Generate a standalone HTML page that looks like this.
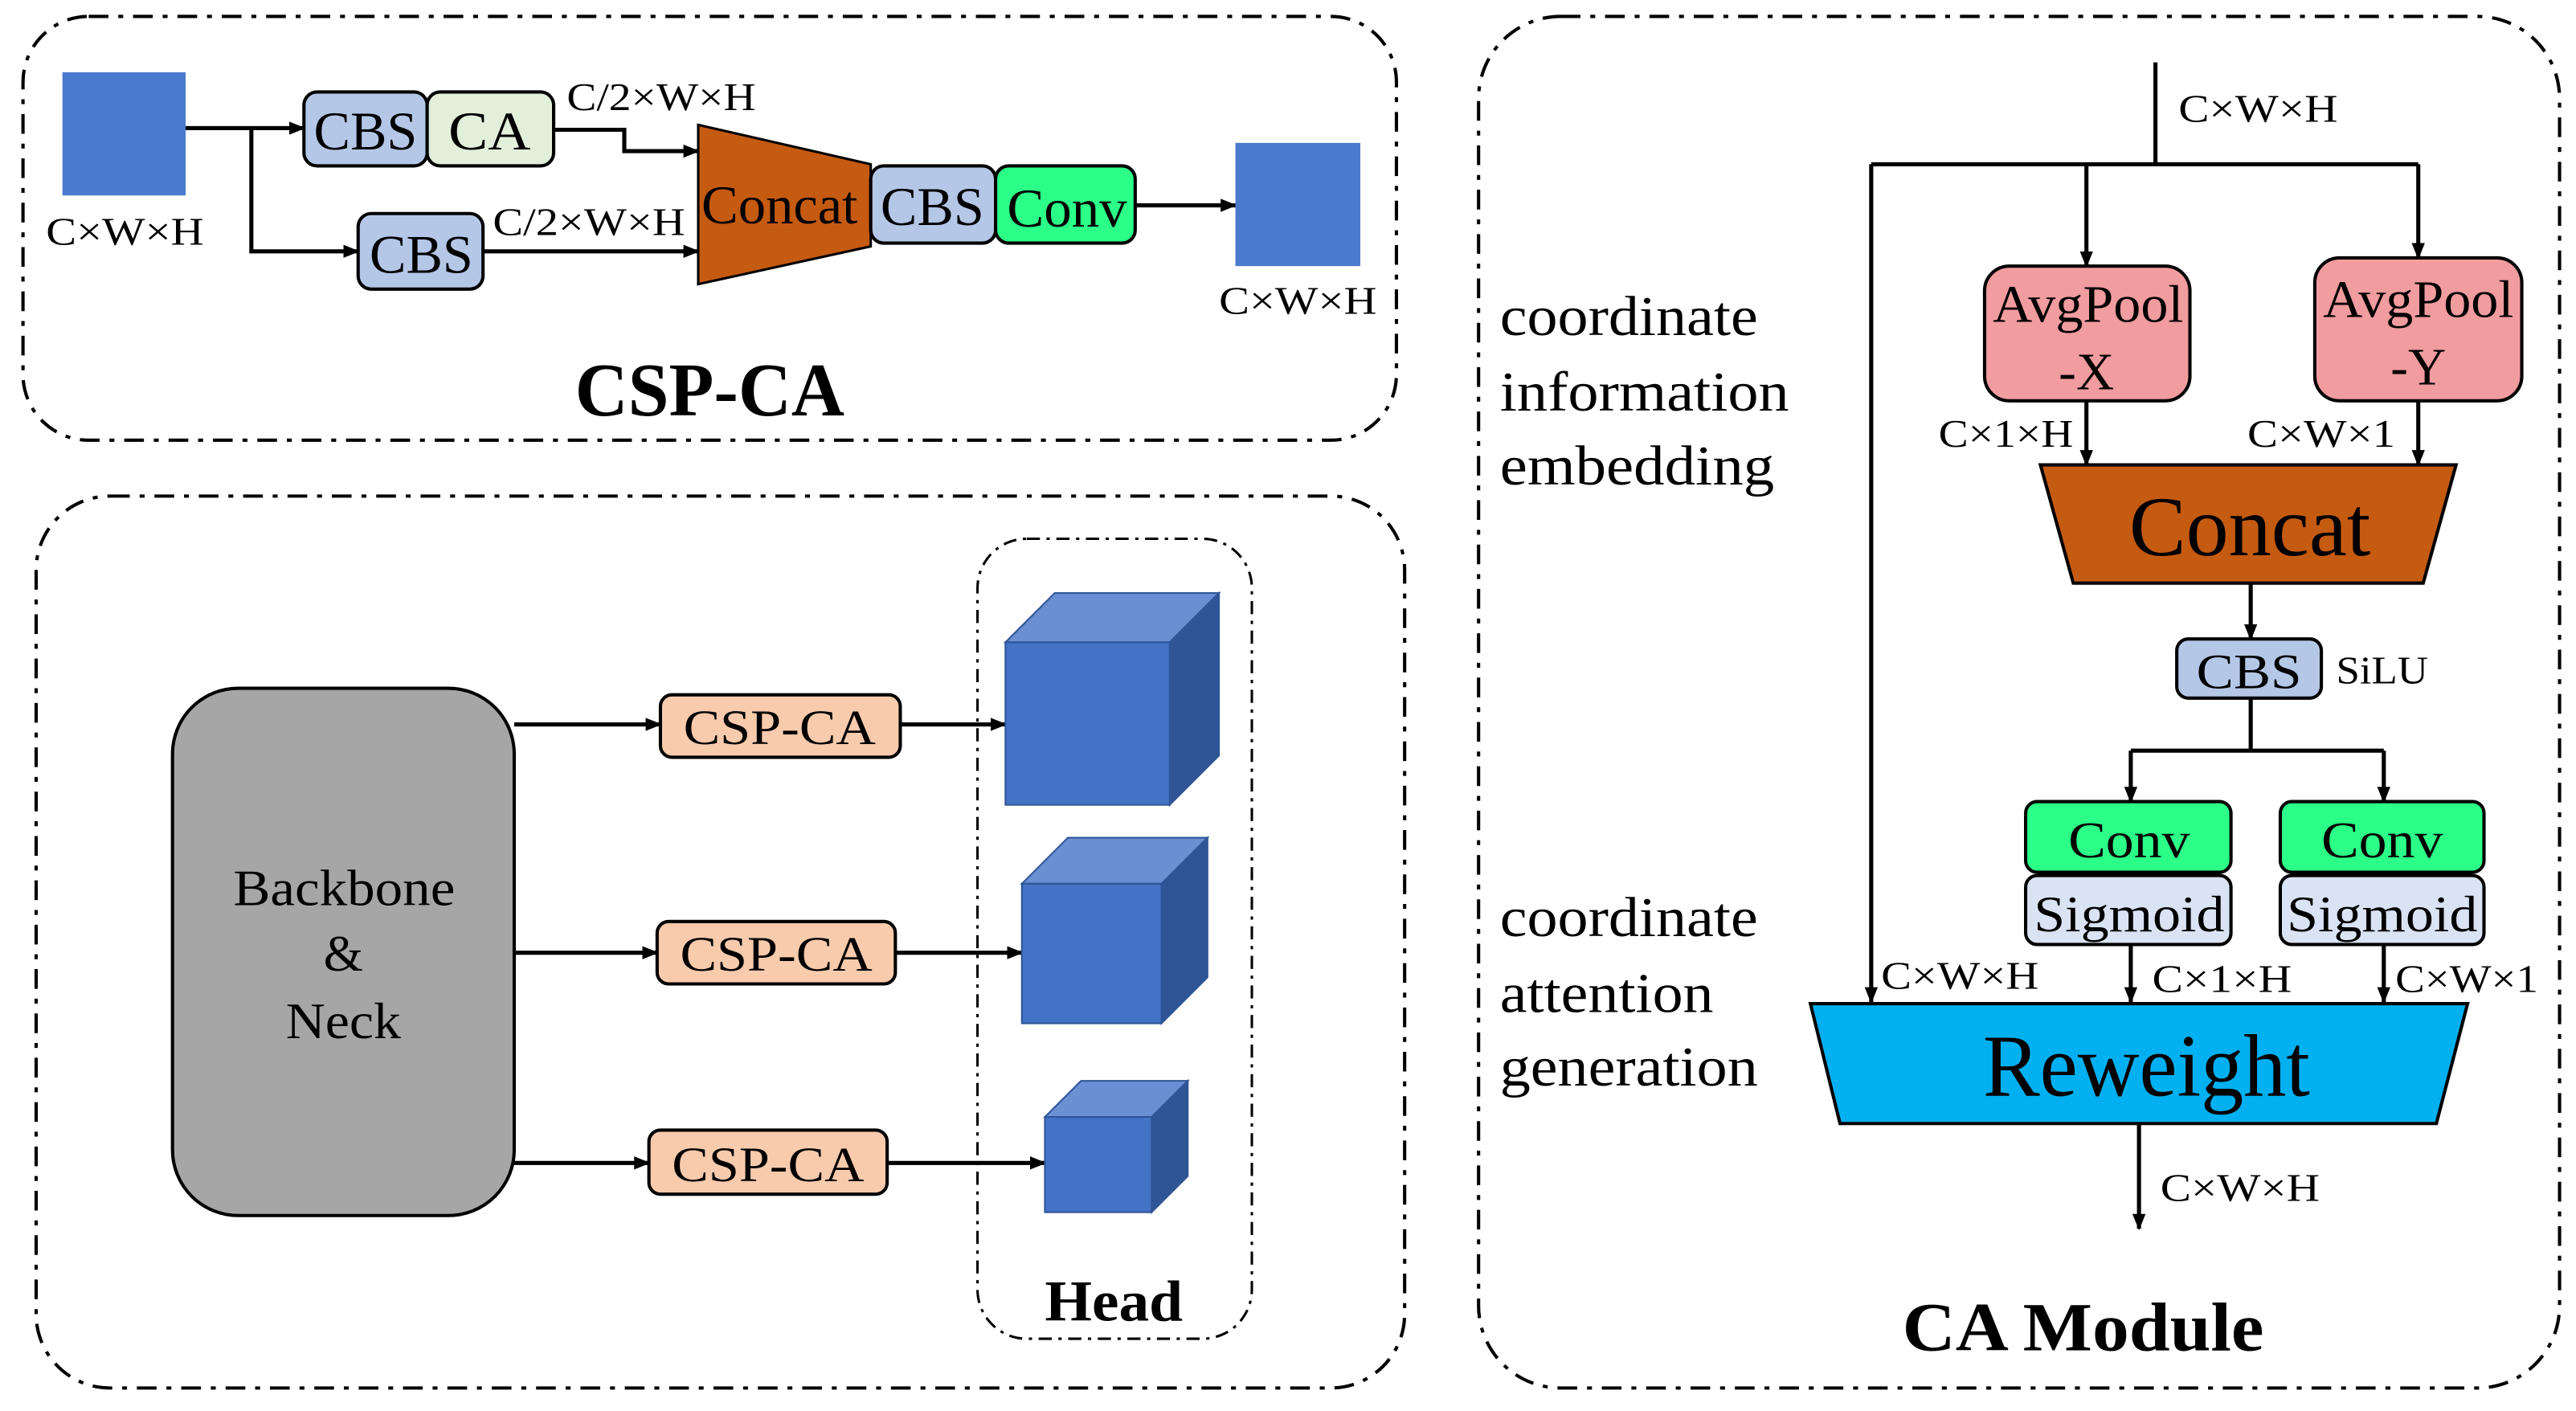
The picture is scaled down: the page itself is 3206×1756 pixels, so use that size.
<!DOCTYPE html>
<html><head><meta charset="utf-8"><style>
html,body{margin:0;padding:0;background:#fff;}
svg{display:block;}
text{font-family:"Liberation Serif","Times New Roman",serif;fill:#000;}
</style></head><body>
<svg width="3206" height="1756" viewBox="0 0 1568 859" preserveAspectRatio="none" xmlns="http://www.w3.org/2000/svg">
<defs>
<marker id="a" markerWidth="10" markerHeight="10" refX="9" refY="5" orient="auto" markerUnits="userSpaceOnUse"><path d="M0,1 L10,5 L0,9 z" fill="#000"/></marker>
</defs>
<g fill="none" stroke="#000" stroke-width="2" stroke-dasharray="12 6 3 6">
<rect x="14" y="10" width="836" height="258" rx="40"/>
<rect x="22" y="302" width="833" height="543" rx="45"/>
<rect x="900" y="10" width="658" height="835" rx="50"/>
<rect x="595" y="328" width="167" height="487" rx="30" stroke-width="1.5" stroke-dasharray="8 4 2 4"/>
</g>

<!-- CSP-CA panel -->
<rect x="38" y="44" width="75" height="75" fill="#4a7acd"/>
<text x="28" y="149" font-size="24" textLength="96" lengthAdjust="spacingAndGlyphs">C×W×H</text>
<g stroke="#000" stroke-width="2.5" fill="none">
<line x1="113" y1="78" x2="185" y2="78" marker-end="url(#a)"/>
<polyline points="153,78 153,153 218,153" marker-end="url(#a)"/>
<polyline points="337,79 380,79 380,92 425,92" marker-end="url(#a)"/>
<line x1="294" y1="153" x2="425" y2="153" marker-end="url(#a)"/>
<line x1="691" y1="125" x2="752" y2="125" marker-end="url(#a)"/>
</g>
<rect x="185" y="56" width="75" height="45" rx="8" fill="#b4c7e7" stroke="#000" stroke-width="2"/>
<rect x="260" y="56" width="77" height="45" rx="8" fill="#e2efda" stroke="#000" stroke-width="2"/>
<text x="191" y="91" font-size="33" textLength="63" lengthAdjust="spacingAndGlyphs">CBS</text>
<text x="273" y="91" font-size="33" textLength="50" lengthAdjust="spacingAndGlyphs">CA</text>
<text x="345" y="67" font-size="24" textLength="115" lengthAdjust="spacingAndGlyphs">C/2×W×H</text>
<rect x="218" y="130" width="76" height="46" rx="8" fill="#b4c7e7" stroke="#000" stroke-width="2"/>
<text x="225" y="166" font-size="33" textLength="63" lengthAdjust="spacingAndGlyphs">CBS</text>
<text x="300" y="143" font-size="24" textLength="117" lengthAdjust="spacingAndGlyphs">C/2×W×H</text>
<polygon points="425,76 530,100 530,150 425,173" fill="#c55a11" stroke="#000" stroke-width="1.5"/>
<text x="427" y="136" font-size="33" textLength="95" lengthAdjust="spacingAndGlyphs">Concat</text>
<rect x="530" y="101" width="76" height="47" rx="8" fill="#b4c7e7" stroke="#000" stroke-width="2"/>
<text x="536" y="137" font-size="33" textLength="63" lengthAdjust="spacingAndGlyphs">CBS</text>
<rect x="606" y="101" width="85" height="47" rx="8" fill="#2bff88" stroke="#000" stroke-width="2"/>
<text x="613" y="138" font-size="33" textLength="73" lengthAdjust="spacingAndGlyphs">Conv</text>
<rect x="752" y="87" width="76" height="75" fill="#4a7acd"/>
<text x="742" y="191" font-size="24" textLength="96" lengthAdjust="spacingAndGlyphs">C×W×H</text>
<text x="350" y="253" font-size="46" font-weight="bold" textLength="164" lengthAdjust="spacingAndGlyphs">CSP-CA</text>

<!-- Bottom-left panel -->
<rect x="105" y="419" width="208" height="321" rx="40" fill="#a6a6a6" stroke="#000" stroke-width="2"/>
<text x="142" y="551" font-size="31" textLength="135" lengthAdjust="spacingAndGlyphs">Backbone</text>
<text x="209" y="591" font-size="31" text-anchor="middle">&amp;</text>
<text x="174" y="632" font-size="31" textLength="70" lengthAdjust="spacingAndGlyphs">Neck</text>
<g stroke="#000" stroke-width="2.5">
<line x1="313" y1="441" x2="402" y2="441" marker-end="url(#a)"/>
<line x1="548" y1="441" x2="612" y2="441" marker-end="url(#a)"/>
<line x1="313" y1="580" x2="400" y2="580" marker-end="url(#a)"/>
<line x1="545" y1="580" x2="622" y2="580" marker-end="url(#a)"/>
<line x1="313" y1="708" x2="395" y2="708" marker-end="url(#a)"/>
<line x1="540" y1="708" x2="636" y2="708" marker-end="url(#a)"/>
</g>
<g fill="#f8cbad" stroke="#000" stroke-width="2">
<rect x="402" y="423" width="146" height="38" rx="7"/>
<rect x="400" y="561" width="145" height="38" rx="7"/>
<rect x="395" y="688" width="145" height="39" rx="7"/>
</g>
<text x="416" y="453" font-size="30" textLength="117" lengthAdjust="spacingAndGlyphs">CSP-CA</text>
<text x="414" y="591" font-size="30" textLength="117" lengthAdjust="spacingAndGlyphs">CSP-CA</text>
<text x="409" y="719" font-size="30" textLength="117" lengthAdjust="spacingAndGlyphs">CSP-CA</text>
<g stroke="#2f5597" stroke-width="1">
<polygon points="612,391 642,361 742,361 712,391" fill="#6a8fd3"/>
<polygon points="712,391 742,361 742,460 712,490" fill="#2f5597"/>
<rect x="612" y="391" width="100" height="99" fill="#4472c4"/>
<polygon points="622,538 650,510 735,510 707,538" fill="#6a8fd3"/>
<polygon points="707,538 735,510 735,595 707,623" fill="#2f5597"/>
<rect x="622" y="538" width="85" height="85" fill="#4472c4"/>
<polygon points="636,680 658,658 723,658 701,680" fill="#6a8fd3"/>
<polygon points="701,680 723,658 723,716 701,738" fill="#2f5597"/>
<rect x="636" y="680" width="65" height="58" fill="#4472c4"/>
</g>
<text x="636" y="804" font-size="35" font-weight="bold" textLength="84" lengthAdjust="spacingAndGlyphs">Head</text>

<!-- CA Module -->
<g stroke="#000" stroke-width="2.5" fill="none">
<line x1="1312" y1="38" x2="1312" y2="100"/>
<line x1="1139" y1="100" x2="1472" y2="100"/>
<line x1="1139" y1="100" x2="1139" y2="610" marker-end="url(#a)"/>
<line x1="1270" y1="100" x2="1270" y2="162" marker-end="url(#a)"/>
<line x1="1472" y1="100" x2="1472" y2="157" marker-end="url(#a)"/>
<line x1="1270" y1="244" x2="1270" y2="283" marker-end="url(#a)"/>
<line x1="1472" y1="244" x2="1472" y2="283" marker-end="url(#a)"/>
<line x1="1370" y1="355" x2="1370" y2="389" marker-end="url(#a)"/>
<line x1="1370" y1="425" x2="1370" y2="457"/>
<line x1="1297" y1="457" x2="1451" y2="457"/>
<line x1="1297" y1="457" x2="1297" y2="488" marker-end="url(#a)"/>
<line x1="1451" y1="457" x2="1451" y2="488" marker-end="url(#a)"/>
<line x1="1297" y1="575" x2="1297" y2="610" marker-end="url(#a)"/>
<line x1="1451" y1="575" x2="1451" y2="610" marker-end="url(#a)"/>
<line x1="1302" y1="684" x2="1302" y2="748" marker-end="url(#a)"/>
</g>
<text x="1326" y="74" font-size="24" textLength="97" lengthAdjust="spacingAndGlyphs">C×W×H</text>
<rect x="1208" y="162" width="125" height="82" rx="15" fill="#f19c9f" stroke="#000" stroke-width="2"/>
<rect x="1409" y="157" width="126" height="87" rx="15" fill="#f19c9f" stroke="#000" stroke-width="2"/>
<text x="1213" y="196" font-size="32" textLength="116" lengthAdjust="spacingAndGlyphs">AvgPool</text>
<text x="1270" y="237" font-size="32" text-anchor="middle">-X</text>
<text x="1414" y="193" font-size="32" textLength="116" lengthAdjust="spacingAndGlyphs">AvgPool</text>
<text x="1472" y="234" font-size="32" text-anchor="middle">-Y</text>
<text x="1180" y="272" font-size="24" textLength="82" lengthAdjust="spacingAndGlyphs">C×1×H</text>
<text x="1368" y="272" font-size="24" textLength="90" lengthAdjust="spacingAndGlyphs">C×W×1</text>
<polygon points="1242,283 1495,283 1475,355 1262,355" fill="#c55a11" stroke="#000" stroke-width="2"/>
<text x="1296" y="338" font-size="52" textLength="147" lengthAdjust="spacingAndGlyphs">Concat</text>
<rect x="1325" y="389" width="88" height="36" rx="7" fill="#b4c7e7" stroke="#000" stroke-width="2"/>
<text x="1337" y="419" font-size="30" textLength="64" lengthAdjust="spacingAndGlyphs">CBS</text>
<text x="1422" y="416" font-size="24" textLength="56" lengthAdjust="spacingAndGlyphs">SiLU</text>
<rect x="1233" y="488" width="125" height="43" rx="7" fill="#2bff88" stroke="#000" stroke-width="2"/>
<rect x="1388" y="488" width="124" height="43" rx="7" fill="#2bff88" stroke="#000" stroke-width="2"/>
<text x="1259" y="522" font-size="31" textLength="74" lengthAdjust="spacingAndGlyphs">Conv</text>
<text x="1413" y="522" font-size="31" textLength="74" lengthAdjust="spacingAndGlyphs">Conv</text>
<rect x="1233" y="533" width="125" height="42" rx="7" fill="#dae3f3" stroke="#000" stroke-width="2"/>
<rect x="1388" y="533" width="124" height="42" rx="7" fill="#dae3f3" stroke="#000" stroke-width="2"/>
<text x="1238" y="567" font-size="31" textLength="116" lengthAdjust="spacingAndGlyphs">Sigmoid</text>
<text x="1392" y="567" font-size="31" textLength="116" lengthAdjust="spacingAndGlyphs">Sigmoid</text>
<text x="1145" y="602" font-size="24" textLength="96" lengthAdjust="spacingAndGlyphs">C×W×H</text>
<text x="1310" y="604" font-size="24" textLength="85" lengthAdjust="spacingAndGlyphs">C×1×H</text>
<text x="1458" y="604" font-size="24" textLength="87" lengthAdjust="spacingAndGlyphs">C×W×1</text>
<polygon points="1102,611 1502,611 1483,684 1120,684" fill="#00b0f0" stroke="#000" stroke-width="2"/>
<text x="1207" y="667" font-size="54" textLength="199" lengthAdjust="spacingAndGlyphs">Reweight</text>
<text x="1315" y="731" font-size="24" textLength="97" lengthAdjust="spacingAndGlyphs">C×W×H</text>
<g font-size="34">
<text x="913" y="204" textLength="157" lengthAdjust="spacingAndGlyphs">coordinate</text>
<text x="913" y="250" textLength="176" lengthAdjust="spacingAndGlyphs">information</text>
<text x="913" y="295" textLength="167" lengthAdjust="spacingAndGlyphs">embedding</text>
<text x="913" y="570" textLength="157" lengthAdjust="spacingAndGlyphs">coordinate</text>
<text x="913" y="616" textLength="130" lengthAdjust="spacingAndGlyphs">attention</text>
<text x="913" y="661" textLength="157" lengthAdjust="spacingAndGlyphs">generation</text>
</g>
<text x="1158" y="822" font-size="42" font-weight="bold" textLength="220" lengthAdjust="spacingAndGlyphs">CA Module</text>
</svg>
</body></html>
